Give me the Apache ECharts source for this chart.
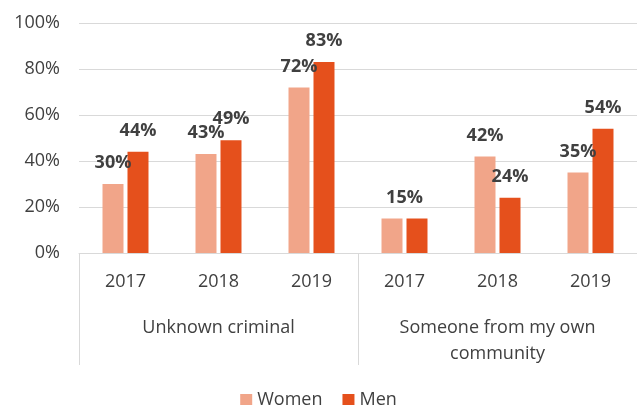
<!DOCTYPE html>
<html><head><meta charset="utf-8">
<script src="https://cdn.jsdelivr.net/npm/echarts@6/dist/echarts.min.js"></script>
<style>html,body{margin:0;padding:0;background:#fff}#c{width:637px;height:405px}</style>
</head><body><div id="c"></div>
<script>
const years = ['2017','2018','2019','2017','2018','2019'];
const groups = ['Unknown criminal', 'Someone from my own\ncommunity'];
const women = [30, 43, 72, 15, 42, 35];
const men = [44, 49, 83, 15, 24, 54];
const yTicks = [0, 20, 40, 60, 80, 100];

const FONT = '"Open Sans", sans-serif';
const chart = echarts.init(document.getElementById('c'));
const labelStyle = {show: true, position: 'top', distance: 12, formatter: '{c}%',
  fontFamily: FONT, fontSize: 18, fontWeight: 'bold', color: '#404040'};

// The shared 15% label in the 2017 "community" category is drawn once, centered.
const womenData = women.map((v, i) => (women[i] === men[i]) ? {value: v, label: {show: false}} : v);
const menData = men.map((v, i) => (women[i] === men[i]) ? {value: v, label: {offset: [-12.5, 0]}} : v);

chart.setOption({
  animation: false,
  grid: {left: 79, right: 0, top: 23, bottom: 152},
  legend: {
    top: 386, left: 'center', itemWidth: 12, itemHeight: 12, itemGap: 20,
    icon: 'rect',
    textStyle: {fontFamily: FONT, fontSize: 18, color: '#404040'},
    data: ['Women', 'Men']
  },
  xAxis: [
    {type: 'category', data: years, position: 'bottom',
      axisLine: {show: true, lineStyle: {color: '#d9d9d9'}},
      axisTick: {show: false},
      axisLabel: {margin: 20, fontFamily: FONT, fontSize: 18, color: '#404040'}},
    {type: 'category', data: groups, position: 'bottom', offset: 0,
      axisLine: {show: false},
      axisTick: {show: true, length: 112, interval: 0, lineStyle: {color: '#d9d9d9'}},
      axisLabel: {margin: 62, fontFamily: FONT, fontSize: 18, color: '#404040', lineHeight: 26, verticalAlign: 'top', interval: 0}}
  ],
  yAxis: {type: 'value', min: yTicks[0], max: yTicks[yTicks.length - 1], interval: 20,
    axisLine: {show: false}, axisTick: {show: false},
    splitLine: {lineStyle: {color: '#d9d9d9', width: 1}},
    axisLabel: {formatter: '{value}%', margin: 19, fontFamily: FONT, fontSize: 18, color: '#404040'}},
  series: [
    {name: 'Women', type: 'bar', xAxisIndex: 0, data: womenData, barWidth: 21, barGap: '19%',
      itemStyle: {color: '#F1A589'}, label: labelStyle},
    {name: 'Men', type: 'bar', xAxisIndex: 0, data: menData, barWidth: 21, barGap: '19%',
      itemStyle: {color: '#E5501C'}, label: labelStyle}
  ]
});
</script></body></html>
